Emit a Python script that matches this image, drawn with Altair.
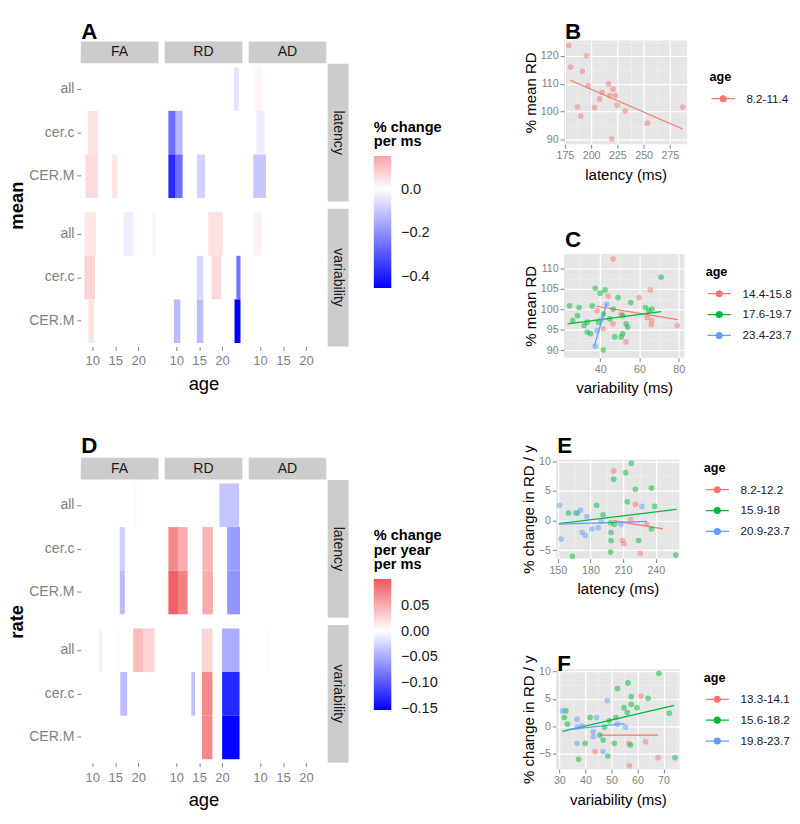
import altair as alt
import pandas as pd

FONT = "Liberation Sans"
STRIP = "#CCCCCC"
PANEL_BG = "#E5E5E5"
GREY50 = "#7F7F7F"
HUE = ["#F8766D", "#00BA38", "#619CFF"]

TRACTS = ["all", "cer.c", "CER.M"]
MEASURES = ["FA", "RD", "AD"]
PREDICTORS = ["latency", "variability"]
AGE_TICKS = [10, 15, 20]
AGE_DOMAIN = [7.5, 24.4]

# Panel A tiles: (measure, predictor, tract, age from, age to, % change per ms)
A_tiles = [
    ("FA", "latency", "cer.c", 9.1, 11.2, 0.05),
    ("FA", "latency", "CER.M", 8.5, 11.2, 0.06),
    ("FA", "latency", "CER.M", 14.3, 15.5, 0.04),
    ("RD", "latency", "all", 22.6, 23.6, -0.05),
    ("RD", "latency", "cer.c", 8.3, 9.9, -0.26),
    ("RD", "latency", "cer.c", 9.9, 11.4, -0.13),
    ("RD", "latency", "CER.M", 8.3, 9.9, -0.38),
    ("RD", "latency", "CER.M", 9.9, 11.4, -0.26),
    ("RD", "latency", "CER.M", 14.5, 16.3, -0.08),
    ("AD", "latency", "all", 8.9, 10.6, 0.015),
    ("AD", "latency", "cer.c", 9.2, 11.0, -0.03),
    ("AD", "latency", "CER.M", 8.5, 11.3, -0.1),
    ("FA", "variability", "all", 8.3, 10.8, 0.04),
    ("FA", "variability", "all", 16.8, 18.9, -0.03),
    ("FA", "variability", "all", 23.1, 23.8, 0.02),
    ("FA", "variability", "cer.c", 8.3, 10.6, 0.07),
    ("FA", "variability", "CER.M", 9.2, 10.3, 0.05),
    ("RD", "variability", "all", 17.0, 20.1, 0.05),
    ("RD", "variability", "cer.c", 14.5, 15.9, -0.07),
    ("RD", "variability", "cer.c", 17.7, 19.8, 0.06),
    ("RD", "variability", "cer.c", 23.1, 24.0, -0.25),
    ("RD", "variability", "CER.M", 9.5, 10.9, -0.12),
    ("RD", "variability", "CER.M", 14.5, 15.9, -0.12),
    ("RD", "variability", "CER.M", 22.7, 24.0, -0.45),
    ("AD", "variability", "all", 8.5, 10.4, 0.02),
]

# Panel D tiles: (measure, predictor, tract, age from, age to, % change per year per ms)
D_tiles = [
    ("FA", "latency", "all", 19.2, 19.6, -0.004),
    ("FA", "latency", "cer.c", 16.0, 17.1, -0.03),
    ("FA", "latency", "CER.M", 16.0, 17.1, -0.04),
    ("RD", "latency", "all", 19.4, 23.7, -0.035),
    ("RD", "latency", "cer.c", 8.3, 10.4, 0.07),
    ("RD", "latency", "cer.c", 10.4, 12.5, 0.05),
    ("RD", "latency", "cer.c", 15.7, 18.0, 0.045),
    ("RD", "latency", "cer.c", 21.1, 23.9, -0.06),
    ("RD", "latency", "CER.M", 8.3, 10.4, 0.095),
    ("RD", "latency", "CER.M", 10.4, 12.5, 0.075),
    ("RD", "latency", "CER.M", 15.7, 18.0, 0.05),
    ("RD", "latency", "CER.M", 21.1, 23.9, -0.065),
    ("FA", "variability", "all", 11.4, 12.1, -0.008),
    ("FA", "variability", "all", 15.4, 15.9, 0.004),
    ("FA", "variability", "all", 18.9, 21.2, 0.04),
    ("FA", "variability", "all", 21.2, 23.6, 0.025),
    ("FA", "variability", "cer.c", 16.1, 17.6, -0.04),
    ("RD", "variability", "all", 15.6, 17.9, 0.025),
    ("RD", "variability", "all", 20.0, 23.8, -0.05),
    ("RD", "variability", "cer.c", 13.3, 14.1, -0.04),
    ("RD", "variability", "cer.c", 15.6, 17.9, 0.07),
    ("RD", "variability", "cer.c", 20.0, 23.8, -0.13),
    ("RD", "variability", "CER.M", 15.6, 17.9, 0.07),
    ("RD", "variability", "CER.M", 20.0, 23.8, -0.15),
    ("AD", "variability", "all", 11.3, 11.9, 0.003),
]

# ---- scatter B ----
B_groups = ["8.2-11.4"]
B_x = [178.7, 180.2, 195.6, 191.6, 187.0, 190.0, 197.0, 203.3, 208.0, 210.4,
       216.5, 220.8, 217.7, 223.3, 224.8, 232.5, 219.6, 253.4, 287.2]
B_y = [123.8, 116.0, 120.1, 114.5, 101.7, 98.4, 109.3, 101.5, 104.6, 107.0,
       110.0, 108.1, 105.8, 105.8, 102.3, 100.3, 90.3, 95.9, 101.7]
B_fit = [("8.2-11.4", 180.2, 111.3, 287.2, 93.8)]

# ---- scatter C ----
C_groups = ["14.4-15.8", "17.6-19.7", "23.4-23.7"]
C_red_x = [46.6, 59.8, 65.5, 79.2, 53.2, 66.3, 46.6, 38.4, 44.1, 50.7, 41.6, 66.0, 64.0]
C_red_y = [112.4, 102.9, 104.8, 96.1, 92.1, 97.3, 96.5, 99.7, 103.3, 98.9, 95.3, 96.3, 98.0]
C_green_x = [71.0, 24.4, 29.3, 26.0, 31.8, 33.4, 35.1, 35.9, 37.5, 40.0, 42.5, 41.6, 44.9,
             47.4, 50.7, 49.1, 53.2, 55.6, 54.0, 51.5, 41.6, 63.0, 64.7, 66.3, 39.2, 46.6,
             51.5, 33.4, 28.5]
C_green_y = [107.9, 100.9, 100.5, 97.3, 96.1, 94.5, 94.1, 100.9, 105.2, 104.0, 104.8, 98.9,
             97.7, 93.3, 93.3, 102.9, 96.5, 101.7, 95.7, 94.1, 90.1, 100.5, 99.7, 100.1,
             96.9, 100.1, 98.5, 96.9, 98.5]
C_blue_x = [37.5, 43.3, 40.8, 38.4]
C_blue_y = [91.0, 101.3, 97.7, 94.9]
C_fit = [("14.4-15.8", 38.0, 100.8, 79.5, 97.5),
         ("17.6-19.7", 23.5, 96.5, 71.0, 99.5),
         ("23.4-23.7", 37.0, 91.0, 43.3, 101.4)]

# ---- scatter E ----
E_groups = ["8.2-12.2", "15.9-18", "20.9-23.7"]
E_red_x = [201.3, 209.3, 210.8, 225.7, 221.2, 216.8, 231.6]
E_red_y = [8.4, -3.35, -3.9, -5.5, 2.75, 0.2, -0.6]
E_green_x = [217.4, 212.3, 201.3, 221.2, 236.0, 213.8, 239.0, 185.6, 167.8, 159.8, 191.5,
             198.4, 198.9, 198.9, 198.4, 224.2, 236.0, 163.4, 258.3, 201.9]
E_green_y = [9.7, 8.1, 7.0, 5.3, 5.5, 3.2, 2.4, 2.6, 1.3, 1.3, 1.0, -0.35, -2.0, -3.35,
             -5.3, -3.35, -1.4, -6.0, -5.8, -0.6]
E_blue_x = [151.5, 153.0, 170.8, 166.3, 172.3, 175.2, 181.2, 187.1, 190.0, 227.2, 207.9, 176.7]
E_blue_y = [2.6, -3.1, 1.8, 1.3, -2.0, -2.5, -1.4, -1.2, -0.1, 2.4, -0.6, 0.7]
E_fit = [("8.2-12.2", 201.0, 0.0, 246.5, -1.4),
         ("15.9-18", 151.0, -0.5, 259.0, 1.9),
         ("20.9-23.7", 151.0, -0.6, 232.0, -0.1)]

# ---- scatter F ----
F_groups = ["13.3-14.1", "15.6-18.2", "19.8-23.7"]
F_red_x = [61.3, 63.1, 67.9, 56.9, 43.7, 56.7]
F_red_y = [5.5, -2.8, -5.7, -7.2, -4.6, -3.1]
F_green_x = [68.2, 56.3, 52.3, 57.6, 64.1, 72.2, 74.4, 57.6, 59.8, 56.1, 51.7, 49.2, 47.4,
             45.5, 46.8, 51.1, 57.3, 48.6, 37.4, 31.9, 33.1, 32.5, 41.8, 39.9, 54.8]
F_green_y = [9.65, 7.9, 6.9, 5.4, 5.1, 2.4, -5.7, 4.0, 3.4, 2.5, 1.6, 1.0, -0.15, -1.6,
             -2.5, -3.1, -3.4, -5.4, -6.0, 1.6, 0.4, 2.8, 1.6, -3.1, 3.4]
F_blue_x = [31.2, 36.8, 36.8, 44.3, 48.4, 43.0, 43.0, 36.8, 46.8, 55.4, 52.3, 38.7]
F_blue_y = [2.8, 1.3, -0.15, 1.6, 4.7, -1.0, -1.9, -3.1, -4.6, -0.15, 0.4, 0.1]
F_fit = [("13.3-14.1", 45.5, -1.6, 67.9, -1.6),
         ("15.6-18.2", 31.2, -0.9, 74.1, 3.8),
         ("19.8-23.7", 33.0, -0.6, 55.0, 0.5)]

# ------------------------------------------------------------------
PW, PH = 80, 142


def heat_block(tiles, letter, letter_y, row_title, cscale, legend):
    df = pd.DataFrame(tiles, columns=["measure", "predictor", "tract", "age_lo", "age_hi", "value"])
    panels = []
    for pi, pred in enumerate(PREDICTORS):
        for mi, meas in enumerate(MEASURES):
            d = df[(df.measure == meas) & (df.predictor == pred)]
            if pi == 1:
                x_axis = alt.Axis(values=AGE_TICKS, grid=False, domain=False, tickColor=GREY50,
                                  tickSize=4, labelColor=GREY50, labelFontSize=13.5, labelPadding=4,
                                  labelFlush=False, format="d",
                                  title="age" if mi == 1 else None, titleFontSize=19,
                                  titleFontWeight="normal", titleColor="black", titleY=38,
                                  titleBaseline="middle")
            else:
                x_axis = None
            if mi == 0:
                y_axis = alt.Axis(domain=False, tickColor=GREY50, tickSize=4, labelColor=GREY50,
                                  labelFontSize=14.5, labelPadding=3,
                                  title=row_title if pi == 0 else None, titleFontSize=19,
                                  titleFontWeight="bold", titleColor="black", titleX=-66,
                                  titleY=PH + 3.7, titleAlign="center", titleBaseline="middle")
            else:
                y_axis = None
            rect = alt.Chart(d).mark_rect().encode(
                x=alt.X("age_lo:Q", scale=alt.Scale(domain=AGE_DOMAIN, nice=False, zero=False), axis=x_axis),
                x2="age_hi:Q",
                y=alt.Y("tract:N", scale=alt.Scale(domain=TRACTS, paddingInner=0, paddingOuter=0.08), axis=y_axis),
                color=alt.Color("value:Q", scale=cscale, legend=legend),
            )
            layers = [rect]
            if pi == 0:
                src = alt.Chart(pd.DataFrame({"t": [meas]}))
                layers.append(src.mark_rect(color=STRIP).encode(
                    x=alt.value(0), x2=alt.value(PW), y=alt.value(-23), y2=alt.value(-0.5)))
                layers.append(src.mark_text(font=FONT, fontSize=14.5, color="#1A1A1A").encode(
                    x=alt.value(PW / 2), y=alt.value(-11.5), text="t:N"))
            if mi == 2:
                src = alt.Chart(pd.DataFrame({"t": [pred]}))
                layers.append(src.mark_rect(color=STRIP).encode(
                    x=alt.value(PW + 1.5), x2=alt.value(PW + 23), y=alt.value(0), y2=alt.value(PH)))
                layers.append(src.mark_text(font=FONT, fontSize=14.5, color="#1A1A1A", angle=90).encode(
                    x=alt.value(PW + 12.3), y=alt.value(PH / 2), text="t:N"))
            if pi == 0 and mi == 0:
                src = alt.Chart(pd.DataFrame({"t": [letter]}))
                layers.append(src.mark_text(font=FONT, fontSize=23, fontWeight="bold", color="black",
                                            align="left", baseline="middle").encode(
                    x=alt.value(0.5), y=alt.value(letter_y), text="t:N"))
            panels.append(alt.layer(*layers).properties(width=PW, height=PH))
    return alt.concat(*panels, columns=3, spacing={"row": 7.4, "column": 6.5},
                      bounds="flush").resolve_scale(color="shared")


SYM = "M-2.4,0L2.4,0M0.6,0A0.6,0.6,0,1,1,-0.6,0A0.6,0.6,0,1,1,0.6,0"


def scatter(groups, series, fits, xdom, ydom, xticks, xminor, yticks, yminor,
            xtitle, ytitle, letter, w, h, ytitle_x, leg_x, leg_y, letter_y):
    xs, ys, gs = [], [], []
    for g, (sx, sy) in zip(groups, series):
        xs += sx
        ys += sy
        gs += [g] * len(sx)
    df = pd.DataFrame({"x": xs, "y": ys, "age": gs})
    frows = []
    for g, x0, y0, x1, y1 in fits:
        frows.append({"age": g, "x": x0, "y": y0})
        frows.append({"age": g, "x": x1, "y": y1})
    fdf = pd.DataFrame(frows)
    color = alt.Color("age:N", scale=alt.Scale(domain=groups, range=HUE[:len(groups)]),
                      legend=alt.Legend(title="age", orient="none", legendX=leg_x, legendY=leg_y,
                                        symbolType=SYM, symbolSize=100, symbolStrokeWidth=1.3,
                                        symbolOffset=8, labelOffset=18, labelFontSize=12,
                                        labelColor="#1A1A1A", titleFontSize=13, titleFontWeight="bold",
                                        titleColor="black", titlePadding=9, rowPadding=9.5,
                                        symbolOpacity=1))
    xs_ = alt.Scale(domain=xdom, nice=False, zero=False)
    ys_ = alt.Scale(domain=ydom, nice=False, zero=False)
    x_major = alt.Axis(values=xticks, grid=True, gridColor="white", gridWidth=1.2, domain=False,
                       tickColor=GREY50, tickSize=4, labelColor=GREY50, labelFontSize=11,
                       labelPadding=2, labelFlush=False, title=xtitle, titleFontSize=15.5,
                       titleFontWeight="normal", titleColor="black", titleY=31, titleBaseline="middle")
    y_major = alt.Axis(values=yticks, grid=True, gridColor="white", gridWidth=1.2, domain=False,
                       tickColor=GREY50, tickSize=4, labelColor=GREY50, labelFontSize=11,
                       labelPadding=2, labelFlush=False, title=ytitle, titleFontSize=15.5,
                       titleFontWeight="normal", titleColor="black", titleX=ytitle_x, titleY=h / 2,
                       titleAlign="center", titleBaseline="middle")
    x_minor = alt.Axis(values=xminor, orient="top", grid=True, gridColor="#F2F2F2", gridWidth=0.6,
                       labels=False, ticks=False, domain=False, title=None)
    y_minor = alt.Axis(values=yminor, orient="right", grid=True, gridColor="#F2F2F2", gridWidth=0.6,
                       labels=False, ticks=False, domain=False, title=None, minExtent=0)
    lines = alt.Chart(fdf).mark_line(strokeWidth=1.3).encode(
        x=alt.X("x:Q", scale=xs_, axis=x_minor), y=alt.Y("y:Q", scale=ys_, axis=y_minor),
        color=color, detail="age:N")
    pts = alt.Chart(df).mark_circle(size=34, opacity=0.5).encode(
        x=alt.X("x:Q", scale=xs_, axis=x_major), y=alt.Y("y:Q", scale=ys_, axis=y_major),
        color=color)
    lab = alt.Chart(pd.DataFrame({"t": [letter]})).mark_text(
        font=FONT, fontSize=23, fontWeight="bold", color="black", align="left", baseline="middle").encode(
        x=alt.value(1), y=alt.value(letter_y), text="t:N")
    return alt.layer(lines, pts, lab).resolve_axis(x="independent", y="independent").properties(
        width=w, height=h, view=alt.ViewBackground(fill=PANEL_BG, strokeWidth=0))


def spacer():
    # invisible 1x1 view used only to top-align the blocks of a row
    return alt.Chart(pd.DataFrame({"t": [0]})).mark_rect(opacity=0).encode(
        x=alt.value(0), x2=alt.value(1), y=alt.value(0), y2=alt.value(1)).properties(width=1, height=1)


scaleA = alt.Scale(domain=[-0.453, 0, 0.151], range=["#0000FF", "#FFFFFF", "#F7A3A5"], interpolate="rgb")
scaleD = alt.Scale(domain=[-0.153, 0, 0.1], range=["#0000FF", "#FFFFFF", "#F0585C"], interpolate="rgb")


def heat_legend(title, values, fmt, lx, ly, length):
    return alt.Legend(title=title, orient="none", legendX=lx, legendY=ly, direction="vertical",
                      gradientLength=length, gradientThickness=18, values=values, format=fmt,
                      titleFontSize=15, titleFontWeight="bold", titleColor="black", titleLineHeight=15,
                      titlePadding=7, labelFontSize=15, labelColor="#1A1A1A", labelOffset=10,
                      labelOverlap=False, gradientStrokeWidth=0)


A = heat_block(A_tiles, "A", -32.5, "mean", scaleA,
               heat_legend(["% change", "per ms"], [-0.4, -0.2, 0.0], ".1f", 302, 58, 136))
D = heat_block(D_tiles, "D", -35, "rate", scaleD,
               heat_legend(["% change", "per year", "per ms"], [-0.15, -0.1, -0.05, 0.0, 0.05], ".2f",
                           302, 50, 135))

B = scatter(B_groups, [(B_x, B_y)], B_fit, [174.1, 291.5], [88.3, 125.6],
            [175, 200, 225, 250, 275], [187.5, 212.5, 237.5, 262.5, 287.5],
            [90, 100, 110, 120], [95, 105, 115, 125],
            "latency (ms)", "% mean RD", "B", 127, 107, -34, 150, 32, -9)
C = scatter(C_groups, [(C_red_x, C_red_y), (C_green_x, C_green_y), (C_blue_x, C_blue_y)], C_fit,
            [21.6, 82.8], [88.2, 113.6], [40, 60, 80], [30, 50, 70],
            [90, 95, 100, 105, 110], [92.5, 97.5, 102.5, 107.5, 112.5],
            "variability (ms)", "% mean RD", "C", 124, 107, -34, 146, 13, -14)
E = scatter(E_groups, [(E_red_x, E_red_y), (E_green_x, E_green_y), (E_blue_x, E_blue_y)], E_fit,
            [148.5, 261.7], [-6.4, 10.3], [150, 180, 210, 240], [165, 195, 225, 255],
            [-5, 0, 5, 10], [-2.5, 2.5, 7.5],
            "latency (ms)", "% change in RD / y", "E", 127, 102, -28, 152, 3, -14)
F = scatter(F_groups, [(F_red_x, F_red_y), (F_green_x, F_green_y), (F_blue_x, F_blue_y)], F_fit,
            [28.8, 76.1], [-7.8, 10.4], [30, 40, 50, 60, 70], [35, 45, 55, 65, 75],
            [-5, 0, 5, 10], [-7.5, -2.5, 2.5, 7.5],
            "variability (ms)", "% change in RD / y", "F", 127, 103, -28, 152, 3, -5)

A_col = alt.vconcat(spacer(), A, spacing=0).resolve_scale(color="independent")
D_col = alt.vconcat(spacer(), D, spacing=0).resolve_scale(color="independent")
BC = alt.vconcat(spacer(), alt.vconcat(B, C, spacing=48).resolve_scale(color="independent"),
                 spacing=0).resolve_scale(color="independent")
EF = alt.vconcat(spacer(), alt.vconcat(E, F, spacing=58).resolve_scale(color="independent"),
                 spacing=0).resolve_scale(color="independent")
top_row = alt.hconcat(A_col, BC, spacing=83).resolve_scale(color="independent")
bot_row = alt.hconcat(D_col, EF, spacing=81).resolve_scale(color="independent")
chart = alt.vconcat(top_row, bot_row, spacing=39).resolve_scale(color="independent").properties(
    padding=0).configure(font=FONT).configure_view(strokeWidth=0)

chart.save("out.html", embed_options={"renderer": "svg", "actions": False})
